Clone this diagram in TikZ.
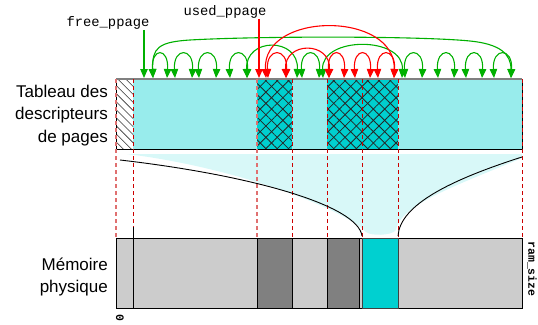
\documentclass[tikz,border=0pt]{standalone}
\usepackage{fontspec}
\setmainfont{Liberation Sans}
\newfontfamily\monof{Liberation Mono}
\usetikzlibrary{arrows.meta,patterns.meta}
\definecolor{tabcyan}{HTML}{98ECEC}
\definecolor{hatchcyan}{HTML}{00CFCF}
\definecolor{fillcyan}{HTML}{D8F8F8}
\definecolor{memgray}{HTML}{CCCCCC}
\definecolor{memdark}{HTML}{808080}
\definecolor{memcyan}{HTML}{00D0D0}
\definecolor{dred}{HTML}{CC0000}
\definecolor{pred}{HTML}{E07070}
\definecolor{lgreen}{HTML}{00B000}
\definecolor{lred}{HTML}{FF0000}
\tikzset{hd/.tip={Triangle[width=7.5pt,length=9pt]}}
\begin{document}
\begin{tikzpicture}[x=1pt,y=-1pt,
  garc/.style={draw=lgreen,line width=1.1pt,hd-hd},
  rarc/.style={draw=lred,line width=1.1pt,hd-hd},
  gptr/.style={draw=lgreen,line width=1.1pt,-hd},
  rptr/.style={draw=lred,line width=1.1pt,-hd},
  vdash/.style={dred,line width=1pt,dash pattern=on 4pt off 3pt},
  vdashl/.style={pred,line width=1.2pt,dash pattern=on 4pt off 3pt},
  lbl/.style={font=\fontsize{17}{22.5}\selectfont,align=right,inner sep=0pt},
  mono/.style={font=\monof\fontsize{13.8}{16}\selectfont,inner sep=0pt},
  monob/.style={font=\monof\bfseries\fontsize{11.5}{13}\selectfont,inner sep=0pt,rotate=-90},
  xhatch/.style={pattern={Lines[angle=45,distance=8pt,line width=0.8pt]},pattern color=black!85},
  yhatch/.style={pattern={Lines[angle=-45,distance=8pt,line width=0.8pt]},pattern color=black!85},
  memseg/.style={draw=black,line width=0.8pt}
]
\useasboundingbox (0,0) rectangle (538,324);

% ---------- descriptor table ----------
\fill[tabcyan] (133,79) rectangle (522,149);
\fill[white] (116,79) rectangle (133,149);
\path[pattern={Lines[angle=-45,distance=5.7pt,line width=0.6pt]},pattern color=black!80] (116,79) rectangle (133,149);
\foreach \a/\b in {257/292,327/362,362/398}{
  \fill[hatchcyan] (\a,79) rectangle (\b,149);
  \path[xhatch] (\a,79) rectangle (\b,149);
  \path[yhatch] (\a,79) rectangle (\b,149);
}
\draw[black,line width=0.8pt] (116,79) rectangle (522,149);
\draw[black!50,line width=1.5pt] (116,79) -- (522,79);

% ---------- funnel ----------
\fill[fillcyan] (127,154) .. controls (240,168) and (345,210) .. (366,232)
  .. controls (370,236) and (392,236) .. (396,230)
  .. controls (400,205) and (455,186) .. (522,158) -- (522,154) -- cycle;

% ---------- dashed guides ----------
\foreach \x in {133,292,327,362,398,522} \draw[vdash] (\x,79) -- (\x,238);
\foreach \x in {116,257} \draw[vdashl] (\x,79) -- (\x,238);

% ---------- curves ----------
\draw[black,line width=0.9pt] (120,160) .. controls (250,175) and (358,205) .. (362,236);
\draw[black,line width=0.9pt] (398,236) .. controls (400,205) and (450,180) .. (522,157);

% ---------- physical memory ----------
\draw[memseg,fill=memgray] (116,238) rectangle (522,308);
\draw[memseg,fill=memdark] (257,238) rectangle (292,308);
\draw[memseg,fill=memdark] (327,238) rectangle (359,308);
\draw[draw=black!75,line width=0.8pt,fill=memcyan] (362,238) rectangle (398,308);
\draw[black,line width=0.9pt] (133,227) -- (133,308);

% ---------- labels ----------
\node[lbl,anchor=east] (tlab) at (108,115.2) {Tableau des\\descripteurs\\de pages};
\node[lbl,anchor=east] (mlab) at (108,277) {Mémoire\\physique};
\node[mono,anchor=base] (fp) at (108,26.7) {free\_ppage};
\node[mono,anchor=base] (up) at (225,15.7) {used\_ppage};
\node[monob] (z0) at (120,318) {0};
\node[monob] (rs) at (532,269) {ram\_size};

% ---------- anchor points ----------
\foreach \x in {144,153,167,175,192,199,216,230,247,297,302,319,323,402,405,422,438,454,466,482,494,511}
  \coordinate (g\x) at (\x,78);
\foreach \x in {259,266,268,286,329,344,355,370,378,394}
  \coordinate (r\x) at (\x,78);

% ---------- free list (green) ----------
\draw[gptr] (fp.south -| g144) -- (g144);
\draw[garc] (g153) .. controls +(-1,-30) and (158,42) .. (190,40)
  .. controls (260,36) and (420,36) .. (470,41)
  .. controls (500,44) and +(0,-24) .. (g511);
\foreach \a/\b in {153/167,175/192,199/216,230/247,302/319,405/422,438/454,466/482,494/511}
  \draw[garc] (g\a) .. controls +(-2,-31) and +(2,-31) .. (g\b);
\draw[garc] (g247) .. controls +(-2,-41) and +(2,-41) .. (g297);
\draw[garc] (g323) .. controls +(-2,-42) and +(2,-42) .. (g402);

% ---------- used list (red) ----------
\draw[rptr] (up.south -| r259) -- (r259);
\draw[rarc] (r266) .. controls +(-4,-67) and +(2,-67) .. (r394);
\foreach \a/\b in {268/286,329/344,355/370,378/394}
  \draw[rarc] (r\a) .. controls +(-2,-31) and +(2,-31) .. (r\b);
\draw[rarc] (r286) .. controls +(-2,-37) and +(2,-37) .. (r329);
\end{tikzpicture}
\end{document}
